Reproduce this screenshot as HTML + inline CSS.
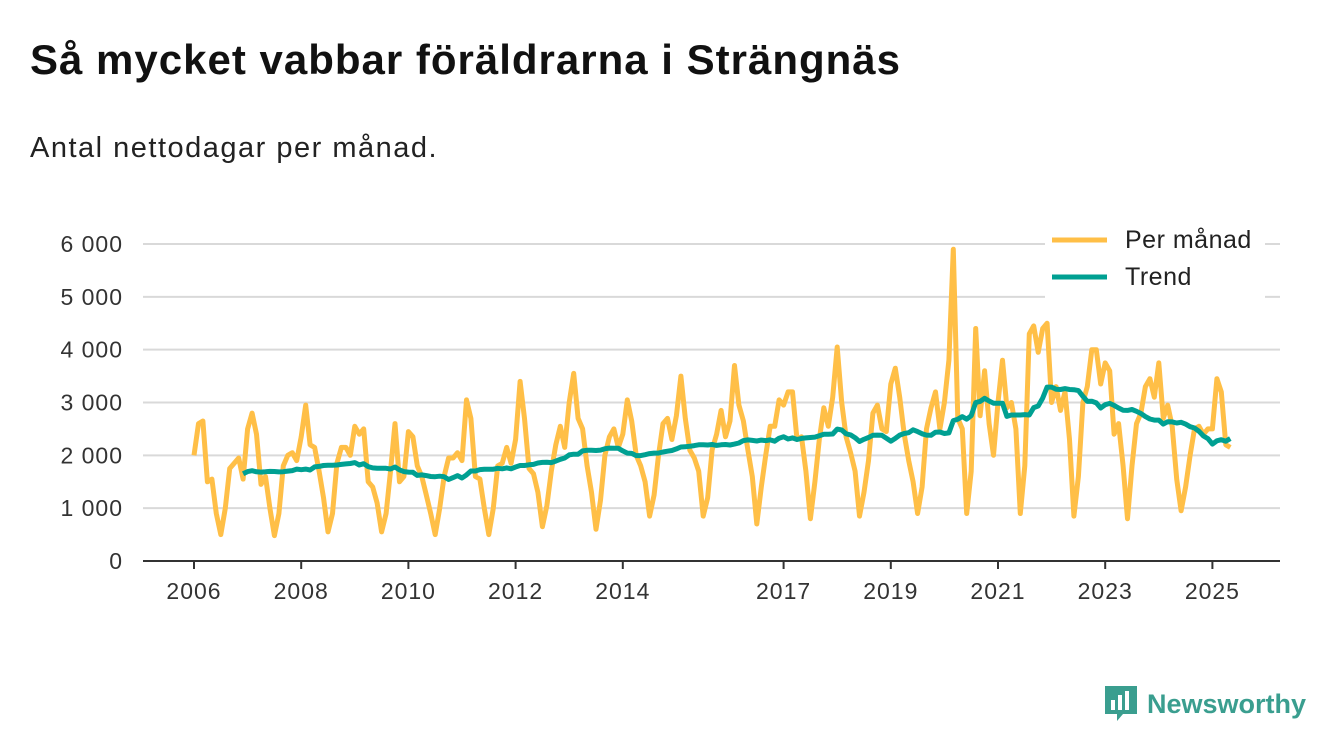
<!DOCTYPE html>
<html><head><meta charset="utf-8"><style>
body{margin:0;background:#fff;font-family:"Liberation Sans","DejaVu Sans",sans-serif;}
#wrap{position:relative;width:1340px;height:753px;overflow:hidden;}
h1{position:absolute;left:30px;top:36px;margin:0;font-size:42px;letter-spacing:1px;font-weight:bold;color:#111;}
.sub{position:absolute;left:30px;top:132px;font-size:29px;letter-spacing:1.5px;color:#222;}
svg{position:absolute;left:0;top:0;}
.logo{position:absolute;left:1103px;top:684px;display:flex;align-items:center;gap:8px;color:#3a9e8f;font-size:27px;font-weight:bold;}
</style></head><body>
<div id="wrap">
<h1>Så mycket vabbar föräldrarna i Strängnäs</h1>
<div class="sub">Antal nettodagar per månad.</div>
<svg id="chart" width="1340" height="753"></svg>
<div class="logo">
<svg width="36" height="40" viewBox="0 0 36 40" style="position:static"><path d="M2 2h32v28H20l-6 7v-7H2z" fill="#3a9e8f"/><rect x="8" y="16" width="4" height="10" fill="#fff"/><rect x="15" y="11" width="4" height="15" fill="#fff"/><rect x="22" y="7" width="4" height="19" fill="#fff"/></svg>
<span>Newsworthy</span></div>
</div>
<script>
const startYear = 2006;
const yTicks = [0,1000,2000,3000,4000,5000,6000];
const yTickLabels = ["0","1 000","2 000","3 000","4 000","5 000","6 000"];
const xTickYears = [2006,2008,2010,2012,2014,2017,2019,2021,2023,2025];
const perManad = [
2000,2600,2650,1500,1550,900,500,1000,1750,1850,1950,1550,
2500,2800,2400,1450,1600,1000,480,900,1800,2000,2050,1900,
2350,2950,2200,2150,1700,1200,550,900,1850,2150,2150,2000,
2550,2400,2500,1500,1400,1100,550,900,1700,2600,1500,1600,
2450,2350,1800,1600,1250,900,500,1000,1600,1950,1950,2050,
1900,3050,2700,1600,1550,1000,500,1000,1800,1850,2150,1850,
2300,3400,2700,1750,1650,1300,650,1050,1700,2200,2550,2150,
3000,3550,2700,2500,1800,1300,600,1150,2000,2350,2500,2150,
2400,3050,2650,2000,1800,1500,850,1250,2000,2600,2700,2300,
2750,3500,2700,2100,1950,1700,850,1200,2100,2400,2850,2350,
2650,3700,2950,2650,2100,1600,700,1400,2000,2550,2550,3050,
2950,3200,3200,2300,2350,1700,800,1500,2300,2900,2550,3100,
4050,3000,2350,2050,1700,850,1300,1900,2800,2950,2500,2450,
3350,3650,3100,2400,1900,1500,900,1400,2500,2900,3200,2500,
3000,3800,5900,2700,2500,900,1700,4400,2750,3600,2600,2000,
3000,3800,2900,3000,2500,900,1800,4300,4450,3950,4400,4500,
3000,3300,2850,3200,2300,850,1600,3000,3300,4000,4000,3350,
3750,3600,2400,2600,1800,800,1800,2600,2800,3300,3450,3100,
3750,2700,2950,2550,1550,950,1400,2000,2500,2550,2400,2500,
2500,3450,3200,2200,2150];
// trend = rolling 12-month mean of the monthly series
const trend = perManad.map((v,i)=> i<11 ? null : perManad.slice(i-11,i+1).reduce((a,b)=>a+b,0)/12);

const svg=document.getElementById('chart');
const NS='http://www.w3.org/2000/svg';
const x0=194, pxYear=53.6, yBase=561, pxUnit=317/6000;
const xs=i=>x0+(i/12)*pxYear;
const xy=yr=>x0+(yr-startYear)*pxYear;
const ys=v=>yBase-v*pxUnit;
function mk(tag,attrs){const e=document.createElementNS(NS,tag);for(const k in attrs)e.setAttribute(k,attrs[k]);svg.appendChild(e);return e;}
yTicks.forEach((t,i)=>{
  if(t>0){const g=mk('line',{x1:143,x2:1280,y1:ys(t),y2:ys(t),stroke:'#d9d9d9','stroke-width':2});
  
  }
  const l=mk('text',{x:123,y:ys(t)+8,'text-anchor':'end','font-size':23,'letter-spacing':1,fill:'#333','font-family':'"Liberation Sans",sans-serif'});
  l.textContent=yTickLabels[i];
  
  
});
const ax=mk('line',{x1:143,x2:1280,y1:yBase,y2:yBase,stroke:'#333','stroke-width':2});


xTickYears.forEach(yr=>{
  const tk=mk('line',{x1:xy(yr),x2:xy(yr),y1:yBase,y2:yBase+8,stroke:'#333','stroke-width':2});
  
  
  const l=mk('text',{x:xy(yr),y:599,'text-anchor':'middle','font-size':23,'letter-spacing':1,fill:'#333','font-family':'"Liberation Sans",sans-serif'});
  l.textContent=yr;
  
  
});
function pathOf(arr){let d='';arr.forEach((v,i)=>{if(v==null)return;d+=(d?'L':'M')+xs(i).toFixed(1)+','+ys(v).toFixed(1);});return d;}
const p1=mk('path',{d:pathOf(perManad),fill:'none',stroke:'#ffbf47','stroke-width':5,'stroke-linejoin':'round'});


const p2=mk('path',{d:pathOf(trend),fill:'none',stroke:'#00a092','stroke-width':5,'stroke-linejoin':'round'});


const lb=mk('rect',{x:1045,y:222,width:220,height:76,fill:'#fff'});


[['Per månad','#ffbf47',240],['Trend','#00a092',277]].forEach(([t,c,y])=>{
  const s=mk('line',{x1:1052,x2:1107,y1:y,y2:y,stroke:c,'stroke-width':5});
  
  
  const l=mk('text',{x:1125,y:y+8,'font-size':25,'letter-spacing':0.5,fill:'#222','font-family':'"Liberation Sans",sans-serif'});
  l.textContent=t;
  
  
});
</script>
</body></html>
